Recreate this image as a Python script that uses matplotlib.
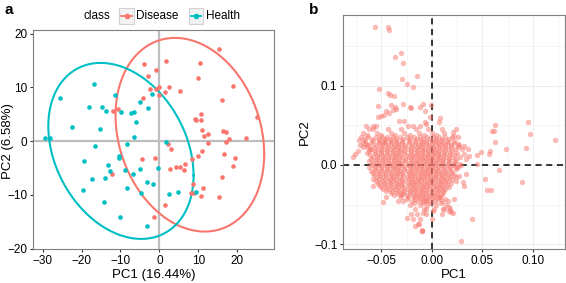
import numpy as np
import matplotlib
matplotlib.use("Agg")
import matplotlib.pyplot as plt
from matplotlib.lines import Line2D
from matplotlib.patches import Rectangle

plt.rcParams['font.family'] = ['Liberation Sans', 'DejaVu Sans']

# panel a: PCA scores by class
health_x = [-16.9, -25.6, -18.2, -14.8, -13.7, -11.3, -9.9, -7.4, -6.6, -5.1, -3.0, -1.85,
            -6.0, -22.4, -15.2, -29.4, -28.0, -6.6, -16.5, -19.3, -13.2, -12.6, -17.3, -13.9,
            -19.7, -10.4, -10.4, -8.2, -8.9, -5.1, -6.8, -8.35, -3.3, -1.75, -4.7, -14.3,
            -10.0, -3.1, 1.6, -0.3, 2.35, 4.9, 9.5]
health_y = [10.6, 8.1, 6.4, 6.4, 5.7, 8.5, 5.5, 5.2, 5.5, 7.3, 6.2, 8.75,
            3.5, 2.6, 2.2, 0.5, 0.5, 0.75, -0.86, -3.7, -4.5, -5.5, -7.1, -6.9,
            -9.1, -2.7, -3.1, -0.5, -5.4, -5.1, -6.2, -8.75, -7.7, -7.9, -9.7, -11.4,
            -14.1, -15.8, -0.2, -4.95, -9.8, -9.5, -9.5]
disease_x = [-4.0, -3.0, -2.5, -4.2, -11.8, -10.7,
             15.2, 1.74, 10.5, -0.9, 10.0, 19.05, 16.0, 2.4, 1.4, -0.05, -1.0, -0.1, 5.4,
             10.7, 9.1, 9.5, 10.8, 25.1, 11.0, 12.5, 16.3, 17.0, 11.4, 17.8, 22.2,
             -4.4, -12.3, -1.3,
             2.1, 3.0, 12.4, 17.25, -1.2, 10.9, 10.0, 16.5, 19.4, 19.0, 8.3, 6.6, 2.8,
             4.15, 5.3, 6.2, 16.1, 8.6, 11.1, 8.0, 8.9, 10.6, 15.2, 1.5]
disease_y = [14.3, 12.2, 9.8, 8.1, 5.7, 5.9,
             17.1, 14.9, 14.6, 13.3, 11.7, 10.3, 7.7, 10.05, 9.2, 10.05, 9.7, 8.5, 9.4,
             5.0, 4.2, 3.9, 4.0, 4.5, 2.0, 1.4, 1.9, 1.7, 0.9, 0.45, 0.5,
             -3.3, -6.1, -14.2,
             -0.5, -1.4, -0.3, -0.2, -3.2, -1.9, -2.7, -2.4, -3.2, -4.7, -3.35, -4.2, -5.2,
             -4.9, -4.9, -5.3, -6.6, -8.0, -8.7, -9.7, -9.7, -10.3, -10.4, -11.9]

# panel b: loadings, scattered points
out_x = [-0.056, -0.0435, -0.0425, -0.030, -0.036, -0.028, -0.015, -0.029, -0.025, -0.019,
         -0.052, -0.0435, -0.0415, -0.037, -0.028, -0.001, -0.021,
         -0.040, -0.036, -0.038, -0.035, -0.042, -0.047, -0.050, -0.053, -0.045,
         -0.009, -0.007, -0.0116, -0.032, -0.027, -0.019, -0.012, -0.007, -0.0055,
         -0.058, -0.055, -0.062, -0.065, -0.053, -0.022, -0.024, -0.0017, 0.008, 0.0076,
         -0.078, -0.076, -0.073, -0.068, -0.065, -0.061, -0.072, -0.048,
         0.0623, 0.0596, 0.0616, 0.0952, 0.097, 0.024, 0.0208, 0.1218, 0.0625, 0.0731,
         0.093, 0.0576, 0.0563, 0.0484, 0.0448, 0.0452, 0.0665, 0.0524, 0.0892, 0.0546,
         0.0583, 0.0398, 0.029, 0.0224, 0.0257, 0.0323, 0.0356, 0.0323, 0.0372, 0.034,
         0.0274, 0.024, 0.034, 0.0274, 0.024, 0.0306, 0.0323, 0.0224, 0.0208,
         -0.017, -0.0095, -0.0247, 0.0175, 0.0125,
         -0.058, -0.048, -0.045, -0.0336, -0.029, -0.019, -0.0138, -0.0099, -0.0204,
         -0.009, -0.0056, 0.001, -0.0056, 0.0075, 0.0108, 0.0174, 0.019]
out_y = [0.174, 0.174, 0.170, 0.141, 0.136, 0.129, 0.112, 0.108, 0.102, 0.098,
         0.096, 0.091, 0.088, 0.087, 0.077, 0.075, 0.072,
         0.0757, 0.073, 0.069, 0.071, 0.066, 0.063, 0.062, 0.074, 0.068,
         0.077, 0.068, 0.073, 0.055, 0.055, 0.049, 0.049, 0.054, 0.051,
         0.049, 0.049, 0.045, 0.049, 0.060, 0.073, 0.049, 0.060, 0.059, 0.054,
         0.0096, 0.014, 0.018, 0.022, 0.026, 0.020, 0.031, 0.029,
         0.050, 0.0424, 0.0429, 0.054, 0.039, 0.045, 0.041, 0.032, 0.029, 0.020,
         0.021, 0.018, 0.014, 0.016, 0.012, 0.001, -0.006, -0.018, -0.021, -0.031,
         -0.0315, -0.0686, -0.0955, 0.037, 0.0265, 0.024, 0.020, 0.014, 0.0117, 0.0076,
         0.0013, -0.003, -0.011, -0.0135, -0.0198, -0.022, -0.026, -0.043, -0.060,
         -0.0765, -0.083, -0.067, -0.058, -0.056,
         -0.026, -0.047, -0.041, -0.045, -0.037, -0.068, -0.0745, -0.083, -0.062,
         -0.060, -0.0555, -0.0577, -0.045, -0.041, -0.0555, -0.0534, -0.0597]

# panel b: dense core, one list of PC1 values per PC2 row
blob_y = [0.045, 0.040, 0.035, 0.030, 0.025, 0.020, 0.015, 0.010, 0.005, 0.000,
          -0.005, -0.010, -0.015, -0.020, -0.025, -0.030, -0.035, -0.040, -0.045,
          -0.050, -0.056, -0.062, -0.068, -0.075, -0.082]
blob_x = [
    [-0.058, -0.043, -0.030, -0.016, -0.004, 0.010],
    [-0.068, -0.054, -0.040, -0.027, -0.013, 0.000, 0.012],
    [-0.070, -0.063, -0.055, -0.049, -0.044, -0.038, -0.031, -0.025, -0.018, -0.012, -0.005, 0.001, 0.007, 0.013, 0.020, 0.026],
    [-0.066, -0.058, -0.052, -0.046, -0.040, -0.035, -0.029, -0.023, -0.017, -0.011, -0.006, 0.000, 0.004, 0.009, 0.015, 0.022],
    [-0.071, -0.063, -0.055, -0.049, -0.043, -0.037, -0.032, -0.026, -0.020, -0.014, -0.009, -0.003, 0.003, 0.008, 0.013, 0.019, 0.027],
    [-0.060, -0.053, -0.047, -0.041, -0.035, -0.030, -0.024, -0.018, -0.012, -0.007, -0.001, 0.004, 0.010, 0.016, 0.023, 0.030],
    [-0.064, -0.056, -0.050, -0.044, -0.038, -0.033, -0.027, -0.021, -0.015, -0.010, -0.004, 0.001, 0.006, 0.012, 0.018, 0.025],
    [-0.058, -0.052, -0.046, -0.040, -0.035, -0.029, -0.023, -0.018, -0.012, -0.007, -0.002, 0.003, 0.008, 0.014, 0.020, 0.028],
    [-0.062, -0.055, -0.049, -0.043, -0.037, -0.032, -0.026, -0.020, -0.015, -0.009, -0.004, 0.001, 0.006, 0.011, 0.017, 0.023],
    [-0.059, -0.053, -0.047, -0.041, -0.036, -0.030, -0.024, -0.019, -0.013, -0.008, -0.002, 0.003, 0.009, 0.015, 0.021, 0.029],
    [-0.056, -0.050, -0.044, -0.038, -0.033, -0.027, -0.021, -0.016, -0.010, -0.005, 0.000, 0.005, 0.011, 0.017, 0.024],
    [-0.058, -0.052, -0.046, -0.040, -0.034, -0.029, -0.023, -0.018, -0.012, -0.007, -0.002, 0.004, 0.009, 0.014, 0.020],
    [-0.054, -0.048, -0.042, -0.037, -0.031, -0.025, -0.020, -0.014, -0.009, -0.004, 0.002, 0.007, 0.012, 0.018, 0.024],
    [-0.055, -0.049, -0.043, -0.038, -0.032, -0.027, -0.021, -0.016, -0.011, -0.005, 0.000, 0.006, 0.011, 0.016],
    [-0.052, -0.046, -0.040, -0.034, -0.029, -0.023, -0.018, -0.012, -0.007, -0.002, 0.004, 0.009, 0.015],
    [-0.048, -0.042, -0.036, -0.030, -0.025, -0.019, -0.014, -0.009, -0.003, 0.003, 0.008, 0.013],
    [-0.040, -0.034, -0.028, -0.022, -0.016, -0.011, -0.006, 0.000, 0.005, 0.011],
    [-0.030, -0.024, -0.018, -0.013, -0.008, -0.003, 0.002, 0.008],
    [-0.028, -0.020, -0.014, -0.009, -0.004, 0.003, 0.010, 0.016],
    [-0.022, -0.012, -0.005, 0.004, 0.014],
    [-0.017, -0.008, 0.002, 0.018],
    [-0.015, -0.006, 0.010],
    [-0.012, 0.000],
    [-0.013],
    [-0.010],
]
# second, staggered set of core rows
blob2_y = [0.0375, 0.0325, 0.0275, 0.0225, 0.0175, 0.0125, 0.0075, 0.0025, -0.0025,
           -0.0075, -0.0125, -0.0175, -0.0225, -0.0275, -0.0325, -0.0375, -0.0425, -0.0475]
blob2_x = [
    [-0.064, -0.050, -0.036, -0.022, -0.008, 0.004],
    [-0.067, -0.059, -0.052, -0.046, -0.041, -0.035, -0.028, -0.022, -0.015, -0.009, -0.002, 0.004, 0.010, 0.017],
    [-0.068, -0.060, -0.052, -0.046, -0.040, -0.034, -0.029, -0.023, -0.017, -0.011, -0.006, 0.000, 0.006, 0.011, 0.016, 0.022],
    [-0.064, -0.057, -0.050, -0.044, -0.038, -0.033, -0.027, -0.021, -0.015, -0.010, -0.004, 0.001, 0.007, 0.013, 0.019, 0.026],
    [-0.062, -0.056, -0.050, -0.044, -0.038, -0.032, -0.027, -0.021, -0.015, -0.009, -0.004, 0.002, 0.007, 0.013, 0.020],
    [-0.061, -0.054, -0.048, -0.042, -0.036, -0.031, -0.025, -0.019, -0.014, -0.009, -0.004, 0.001, 0.006, 0.011, 0.017, 0.023],
    [-0.060, -0.054, -0.048, -0.043, -0.037, -0.032, -0.026, -0.021, -0.015, -0.010, -0.005, 0.000, 0.006, 0.011, 0.017, 0.024],
    [-0.058, -0.052, -0.046, -0.040, -0.034, -0.029, -0.023, -0.017, -0.012, -0.006, -0.001, 0.004, 0.010, 0.016, 0.022],
    [-0.062, -0.056, -0.050, -0.044, -0.038, -0.033, -0.027, -0.022, -0.016, -0.011, -0.005, 0.000, 0.006, 0.012, 0.018, 0.026],
    [-0.060, -0.054, -0.048, -0.042, -0.036, -0.031, -0.025, -0.020, -0.014, -0.009, -0.004, 0.002, 0.007, 0.013, 0.019],
    [-0.057, -0.051, -0.045, -0.039, -0.034, -0.028, -0.022, -0.017, -0.011, -0.006, -0.001, 0.004, 0.010, 0.016, 0.022],
    [-0.058, -0.052, -0.046, -0.040, -0.035, -0.029, -0.023, -0.018, -0.013, -0.008, -0.002, 0.003, 0.009, 0.014, 0.020],
    [-0.053, -0.047, -0.041, -0.035, -0.030, -0.024, -0.019, -0.014, -0.008, -0.003, 0.002, 0.008, 0.013, 0.019],
    [-0.050, -0.044, -0.038, -0.033, -0.027, -0.021, -0.016, -0.010, -0.005, 0.001, 0.006, 0.011, 0.017],
    [-0.045, -0.039, -0.033, -0.027, -0.022, -0.017, -0.011, -0.006, 0.000, 0.006, 0.011],
    [-0.037, -0.031, -0.025, -0.019, -0.014, -0.009, -0.003, 0.003, 0.009],
    [-0.025, -0.017, -0.011, -0.006, 0.000, 0.006, 0.013],
    [-0.018, -0.009, -0.001, 0.009],
]

# F(0.95, 2, n-1) quantiles for the two classes
f_disease = 3.159
f_health = 3.220

red = '#F8766D'
teal = '#00BFC4'
grey_frame = '#7f7f7f'


def cov_trob(x, y, nu=5, maxit=25, tol=0.01):
    # multivariate t robust estimate of location and scatter (as MASS::cov.trob)
    X0 = np.column_stack([x, y]).astype(float)
    n, p = X0.shape
    loc = X0.mean(axis=0)
    w = np.ones(n)
    for _ in range(maxit):
        w0 = w
        X = X0 - loc
        S = (X * (w / w.sum())[:, None]).T @ X
        Q = np.einsum('ij,jk,ik->i', X, np.linalg.inv(S), X)
        w = (nu + p) / (nu + Q)
        loc = (w[:, None] * X0).sum(axis=0) / w.sum()
        if np.all(np.abs(w - w0) < tol):
            break
    X = X0 - loc
    cov = (X * w[:, None]).T @ X / n
    return loc, cov


def ellipse(x, y, fq, n=200):
    loc, cov = cov_trob(x, y)
    radius = np.sqrt(2 * fq)
    t = np.linspace(0, 2 * np.pi, n)
    circle = np.column_stack([np.cos(t), np.sin(t)])
    chol = np.linalg.cholesky(cov).T
    pts = loc + radius * circle @ chol
    return pts[:, 0], pts[:, 1]


fig = plt.figure(figsize=(5.66, 2.83), dpi=100)

# ---- panel a
ax = fig.add_axes([0.0583, 0.120, 0.426, 0.774])
ax.axvline(0, color='#bebebe', lw=1.6, zorder=1)
ax.axhline(0, color='#bebebe', lw=1.6, zorder=1)
ax.scatter(disease_x, disease_y, s=11, color=red, lw=0, zorder=3)
ax.scatter(health_x, health_y, s=11, color=teal, lw=0, zorder=3)
ex, ey = ellipse(disease_x, disease_y, f_disease)
ax.plot(ex, ey, color=red, lw=1.5, zorder=2)
ex, ey = ellipse(health_x, health_y, f_health)
ax.plot(ex, ey, color=teal, lw=1.5, zorder=2)
ax.set_xlim(-32.5, 29.5)
ax.set_ylim(-20.1, 20.7)
ax.set_xticks([-30, -20, -10, 0, 10, 20])
ax.set_yticks([-20, -10, 0, 10, 20])
ax.set_xticklabels(['\u221230', '\u221220', '\u221210', '0', '10', '20'])
ax.set_yticklabels(['\u221220', '\u221210', '0', '10', '20'])
ax.set_xlabel('PC1 (16.44%)', fontsize=9.5, labelpad=2)
ax.set_ylabel('PC2 (6.58%)', fontsize=9.5)
ax.yaxis.set_label_coords(14 / 566, 0.5, transform=fig.transFigure)

# legend for panel a, drawn by hand in the ggplot style
fig.text(0.171, 0.944, 'class', fontsize=8.5, ha='center', va='center')
for x0, col, lab in [(0.211, red, 'Disease'), (0.334, teal, 'Health')]:
    fig.add_artist(Rectangle((x0, 0.915), 0.025, 0.055, transform=fig.transFigure,
                             facecolor='#f2f2f2', edgecolor='#d0d0d0', lw=0.8))
    fig.add_artist(Line2D([x0 + 0.003, x0 + 0.022], [0.9425, 0.9425], transform=fig.transFigure,
                          color=col, lw=1.3))
    fig.add_artist(Line2D([x0 + 0.0125], [0.9425], transform=fig.transFigure,
                          color=col, marker='o', ms=3, lw=0))
    fig.text(x0 + 0.030, 0.944, lab, fontsize=8.5, ha='left', va='center')

# ---- panel b
bx = fig.add_axes([0.606, 0.120, 0.392, 0.827])
bx.set_xticks([-0.075, -0.025, 0.025, 0.075, 0.125], minor=True)
bx.set_yticks([-0.05, 0.05, 0.15], minor=True)
bx.grid(which='major', color='#ebebeb', lw=0.6)
bx.grid(which='minor', color='#f2f2f2', lw=0.5)
bx.set_axisbelow(True)
bx.axvline(0, color='black', lw=1.1, ls=(0, (4, 3)), zorder=1)
bx.axhline(0, color='black', lw=1.1, ls=(0, (4, 3)), zorder=1)
bx.scatter(out_x, out_y, s=15, color=red, alpha=0.5, lw=0, zorder=2)
for yy, xs in list(zip(blob_y, blob_x)) + list(zip(blob2_y, blob2_x)):
    bx.scatter(xs, [yy] * len(xs), s=15, color=red, alpha=0.5, lw=0, zorder=2)
bx.set_xlim(-0.0878, 0.1316)
bx.set_ylim(-0.106, 0.189)
bx.set_xticks([-0.05, 0.0, 0.05, 0.10])
bx.set_xticklabels(['\u22120.05', '0.00', '0.05', '0.10'])
bx.set_yticks([-0.1, 0.0, 0.1])
bx.set_yticklabels(['\u22120.1', '0.0', '0.1'])
bx.set_xlabel('PC1', fontsize=9.5, labelpad=2)
bx.set_ylabel('PC2', fontsize=9.5, labelpad=2)

for a in (ax, bx):
    for sp in a.spines.values():
        sp.set_color(grey_frame)
        sp.set_linewidth(0.8)
    a.tick_params(which='major', length=2.5, width=0.8, color='#333333', labelsize=8.5, pad=1.5)
    a.tick_params(which='minor', length=0)

fig.text(0.008, 0.965, 'a', fontsize=11, fontweight='bold', ha='left', va='center')
fig.text(0.545, 0.965, 'b', fontsize=11, fontweight='bold', ha='left', va='center')

fig.savefig('out.png', dpi=100)
